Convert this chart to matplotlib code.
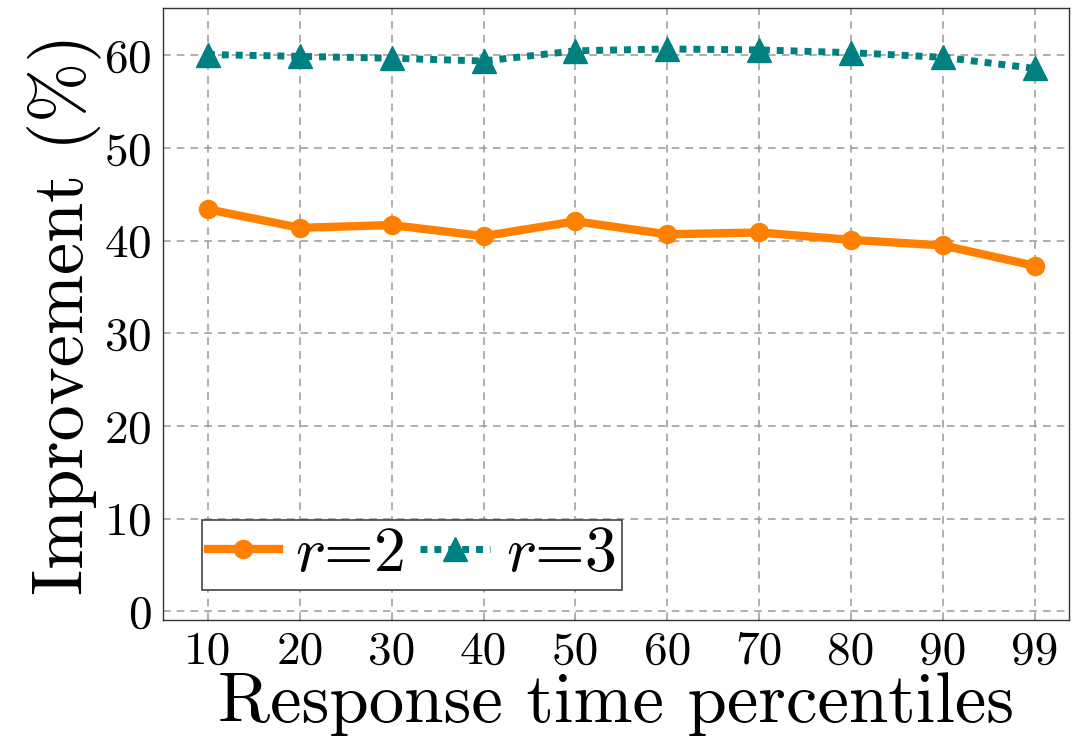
import matplotlib
matplotlib.use('Agg')
import matplotlib.pyplot as plt
import numpy as np

plt.rcParams['font.family'] = 'cmr10'
plt.rcParams['mathtext.fontset'] = 'cm'
plt.rcParams['axes.formatter.use_mathtext'] = True

percentiles = ['10', '20', '30', '40', '50', '60', '70', '80', '90', '99']
improvement_r2 = [43.4, 41.4, 41.7, 40.5, 42.1, 40.7, 40.9, 40.1, 39.5, 37.3]
improvement_r3 = [60.1, 59.9, 59.7, 59.4, 60.5, 60.7, 60.6, 60.3, 59.8, 58.6]
y_ticks = [0, 10, 20, 30, 40, 50, 60]

ORANGE = '#ff8000'
TEAL = '#008080'

fig = plt.figure(figsize=(10.72, 7.45), dpi=100)
ax = fig.add_axes([0.152, 0.168, 0.845, 0.821])

x = np.arange(len(percentiles))
ax.plot(x, improvement_r2, color=ORANGE, linestyle='-', linewidth=6,
        marker='o', markersize=13, label='$r$=2', zorder=3)
ax.plot(x, improvement_r3, color=TEAL, linestyle=(0, (1, 1)), linewidth=5,
        dash_capstyle='butt', marker='^', markersize=17, label='$r$=3', zorder=3)

ax.set_xlim(-0.49, 9.37)
ax.set_ylim(-0.9, 65.1)
ax.set_xticks(x)
ax.set_xticklabels(percentiles)
ax.set_yticks(y_ticks)
ax.tick_params(axis='both', labelsize=34, length=0, pad=8)

ax.grid(True, linestyle=(0, (5, 4)), color='#999999', linewidth=1.1)
ax.set_axisbelow(True)
for spine in ax.spines.values():
    spine.set_linewidth(1.0)
    spine.set_color('#333333')

ax.set_xlabel('Response time percentiles', fontsize=51, labelpad=0)
ax.set_ylabel('Improvement (%)', fontsize=52, labelpad=2)

leg = ax.legend(loc='lower left', ncol=2, fontsize=46, frameon=True,
                fancybox=False, framealpha=1, edgecolor='#444444',
                handlelength=1.1, handletextpad=0.25, columnspacing=0.25,
                borderpad=0.1, borderaxespad=0.0,
                bbox_to_anchor=(0.043, 0.048))
leg.get_frame().set_linewidth(1.2)

fig.savefig('out.png', dpi=100)
